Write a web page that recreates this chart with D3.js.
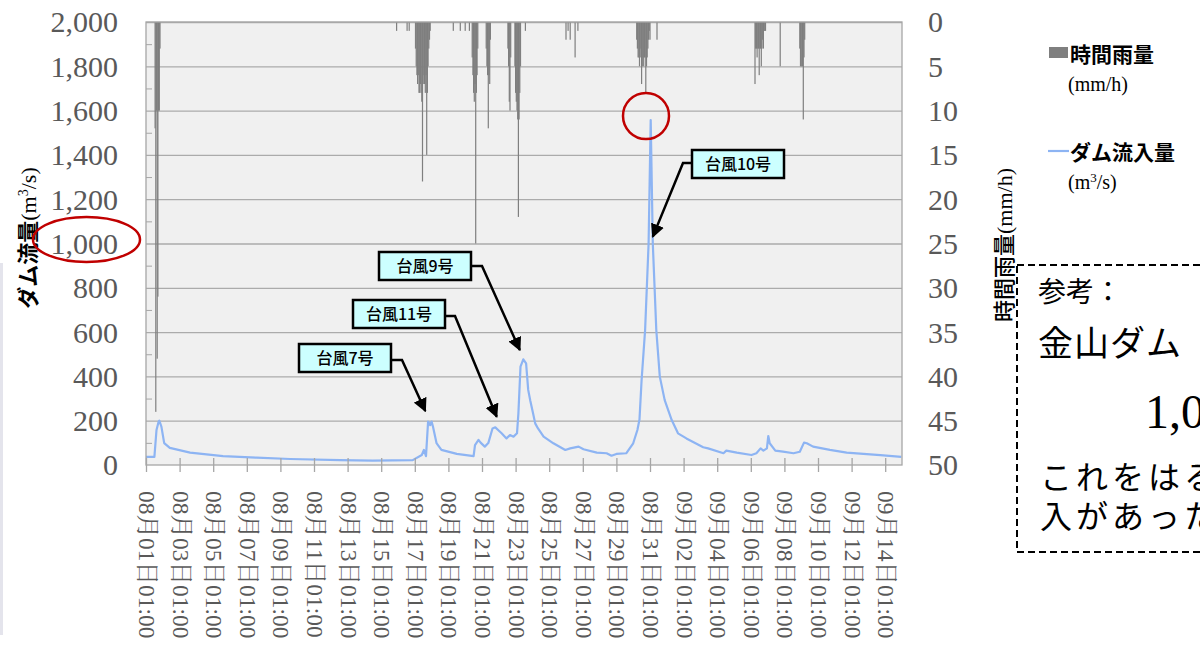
<!DOCTYPE html>
<html>
<head>
<meta charset="utf-8">
<script src="https://cdn.jsdelivr.net/npm/d3@7"></script>
<style>
body{margin:0;background:#fff;overflow:hidden}
</style>
</head>
<body>
<div id="chart"></div>
<script>
var WIDTH=1200, HEIGHT=649;
var LEFT=146, RIGHT=902, TOP=22, BOTTOM=465;

var SERIF='"Liberation Serif","Times New Roman","Noto Serif CJK JP","Noto Sans CJK JP",serif';
var GOTHIC='"Noto Sans CJK JP","Noto Sans",sans-serif';

// ---- data ----
var xTickLabels=["08月01日01:00","08月03日01:00","08月05日01:00","08月07日01:00","08月09日01:00",
  "08月11日01:00","08月13日01:00","08月15日01:00","08月17日01:00","08月19日01:00","08月21日01:00",
  "08月23日01:00","08月25日01:00","08月27日01:00","08月29日01:00","08月31日01:00","09月02日01:00",
  "09月04日01:00","09月06日01:00","09月08日01:00","09月10日01:00","09月12日01:00","09月14日01:00"];
var leftTicks=[0,200,400,600,800,1000,1200,1400,1600,1800,2000];
var rightTicks=[0,5,10,15,20,25,30,35,40,45,50];

// ダム流入量 (m3/s)
var inflowTimes=["08-01 01","08-01 13","08-01 16","08-01 19","08-01 20","08-01 23","08-02 03","08-02 11",
  "08-03 16","08-05 15","08-07 15","08-09 15","08-12 14","08-14 13","08-16 22","08-17 11","08-17 14",
  "08-17 17","08-17 20","08-17 23","08-18 01","08-18 03","08-18 08","08-18 15","08-19 13","08-20 13",
  "08-20 15","08-20 20","08-20 23","08-21 05","08-21 10","08-21 16","08-21 20","08-22 00","08-22 05",
  "08-22 12","08-22 17","08-22 22","08-23 03","08-23 05","08-23 08","08-23 12","08-23 16","08-23 19",
  "08-23 22","08-24 02","08-24 05","08-24 09","08-24 17","08-25 07","08-26 00","08-26 07","08-26 19",
  "08-27 02","08-27 21","08-28 11","08-28 18","08-29 01","08-29 15","08-30 01","08-30 07","08-30 10",
  "08-30 13","08-30 18","08-30 23","08-31 02","08-31 05","08-31 10","08-31 15","08-31 22","09-01 08",
  "09-01 17","09-02 05","09-03 05","09-03 12","09-04 10","09-04 14","09-05 05","09-06 02","09-06 09",
  "09-06 15","09-06 19","09-07 00","09-07 02","09-07 04","09-07 12","09-07 23","09-08 14","09-08 23",
  "09-09 05","09-09 09","09-09 18","09-10 18","09-11 18","09-12 18","09-13 18","09-15 00"];
var inflowValues=[37,37,158,195,200,173,99,77,
  56,40,33,27,22,20,22,45,68,
  40,196,180,196,173,99,68,50,40,
  90,113,101,83,99,165,170,158,143,
  120,135,128,143,233,444,477,459,339,
  290,233,188,165,128,98,68,75,83,
  71,56,53,42,50,53,98,158,206,
  384,609,1000,1557,1000,609,399,293,203,
  143,120,80,75,53,65,56,45,53,
  75,65,75,131,98,65,60,53,60,
  101,98,83,68,56,50,45,37];

// 時間雨量 (mm/h)
var rainTimes=["08-01 14","08-01 15","08-01 16","08-01 17","08-01 18","08-01 19","08-01 20","08-01 21",
  "08-15 23","08-16 14","08-16 17",
  "08-17 02","08-17 03","08-17 04","08-17 05","08-17 06","08-17 07","08-17 08","08-17 09","08-17 10",
  "08-17 11","08-17 12","08-17 13","08-17 14","08-17 15","08-17 16","08-17 17","08-17 18","08-17 19",
  "08-17 20","08-17 21","08-17 22","08-17 23",
  "08-19 08","08-19 18","08-20 01","08-20 07",
  "08-20 11","08-20 12","08-20 13","08-20 14","08-20 15","08-20 16","08-20 17","08-20 18","08-20 19",
  "08-21 07","08-21 08","08-21 09","08-21 10","08-21 11","08-21 12","08-21 13",
  "08-22 14","08-22 15","08-22 16","08-22 17","08-22 18",
  "08-23 00","08-23 01","08-23 02","08-23 03","08-23 04","08-23 05","08-23 06","08-23 07","08-23 08","08-23 15",
  "08-26 01","08-26 04","08-26 07","08-26 14","08-26 18",
  "08-30 06","08-30 07","08-30 08","08-30 09","08-30 10","08-30 11","08-30 12","08-30 13","08-30 14",
  "08-30 15","08-30 16","08-30 17","08-30 18","08-30 19","08-30 20","08-30 21","08-30 22","08-30 23",
  "08-31 00","08-31 01","08-31 11",
  "09-06 07","09-06 08","09-06 09","09-06 10","09-06 11","09-06 12","09-06 13","09-06 14","09-06 15",
  "09-06 16","09-06 17","09-06 18","09-06 19","09-06 20","09-06 21","09-06 22",
  "09-07 19",
  "09-08 23","09-09 00","09-09 01","09-09 02","09-09 03","09-09 04","09-09 05","09-09 06"];
var rainValues=[12,44,10,38,31,10,10,3,
  1,1,1,
  3,5,6,7,6,8,8,7,8,
  9,18,7,6,7,8,6,15,8,
  5,3,2,1,
  1,1,1,1,
  4,6,8,9,7,25,8,6,3,
  3,5,6,12,6,7,2,
  3,5,9,10,4,
  5,8,9,10,11,22,11,8,5,1,
  2,1,2,4,1,
  2,3,4,4,5,4,3,7,5,
  4,5,4,4,8,5,4,3,2,
  1,2,2,
  7,3,3,4,3,3,6,3,3,
  5,3,2,3,1,1,1,
  5,
  3,5,5,5,5,11,4,2];

// ---- helpers ----
var parseT=function(s){return d3.timeParse("%Y-%m-%d %H")("2016-"+s);};
var parseTick=function(s){return d3.timeParse("%Y %m月%d日%H:%M")("2016 "+s);};

var svg=d3.select("#chart").append("svg")
  .attr("width",WIDTH).attr("height",HEIGHT)
  .style("font-family",SERIF);

var scaleX=d3.scaleTime()
  .domain([parseT("08-01 01"),parseT("09-15 01")])
  .range([LEFT,RIGHT]);
var scaleY=d3.scaleLinear().domain([0,2000]).range([BOTTOM,TOP]);
var scaleR=d3.scaleLinear().domain([0,50]).range([TOP,BOTTOM]);

// faint page edge on the left
svg.append("rect").attr("x",0).attr("y",263).attr("width",3).attr("height",372).attr("fill","#e4e4ec");

// plot background
svg.append("rect").attr("x",LEFT).attr("y",TOP)
  .attr("width",RIGHT-LEFT).attr("height",BOTTOM-TOP)
  .attr("fill","#f0f0f0");

// gridlines
svg.append("g").attr("class","grid")
  .attr("transform","translate("+LEFT+",0)")
  .call(d3.axisLeft(scaleY).tickValues(leftTicks.slice(1)).tickSize(-(RIGHT-LEFT)).tickFormat(""))
  .call(function(g){g.select(".domain").remove();})
  .selectAll("line").attr("stroke","#ababab").attr("stroke-width",1.3);

// minor ticks on the left axis
svg.append("g")
  .attr("transform","translate("+LEFT+",0)")
  .call(d3.axisRight(scaleY).tickValues(d3.range(100,2000,200)).tickSize(6).tickFormat(""))
  .call(function(g){g.select(".domain").remove();})
  .selectAll("line").attr("stroke","#a6a6a6");

// rainfall bars hanging from the top
svg.append("g").selectAll("rect")
  .data(rainTimes)
  .enter().append("rect")
  .attr("x",function(d){return scaleX(parseT(d))-0.6;})
  .attr("y",TOP)
  .attr("width",1.2)
  .attr("height",function(d,i){return scaleR(rainValues[i])-TOP;})
  .attr("fill","#7f7f7f");

// inflow line
var line=d3.line()
  .x(function(d){return scaleX(parseT(d));})
  .y(function(d,i){return scaleY(inflowValues[i]);});
svg.append("path")
  .datum(inflowTimes)
  .attr("d",line)
  .attr("fill","none")
  .attr("stroke","#8db4f3")
  .attr("stroke-width",2.2)
  .attr("stroke-linejoin","round");

// plot border
svg.append("rect").attr("x",LEFT).attr("y",TOP)
  .attr("width",RIGHT-LEFT).attr("height",BOTTOM-TOP)
  .attr("fill","none").attr("stroke","#a6a6a6").attr("stroke-width",1.3);

// left axis
var gl=svg.append("g")
  .attr("transform","translate("+LEFT+",0)")
  .call(d3.axisLeft(scaleY).tickValues(leftTicks).tickSize(0).tickPadding(28).tickFormat(d3.format(",")));
gl.select(".domain").remove();
gl.selectAll("text").style("font-family",SERIF).style("font-size","30px").attr("fill","#595959").attr("dy","0.33em");

// right axis
var gr=svg.append("g")
  .attr("transform","translate("+RIGHT+",0)")
  .call(d3.axisRight(scaleR).tickValues(rightTicks).tickSize(0).tickPadding(26));
gr.select(".domain").remove();
gr.selectAll("text").style("font-family",SERIF).style("font-size","30px").attr("fill","#595959").attr("dy","0.33em");

// bottom axis
var gx=svg.append("g")
  .attr("transform","translate(0,"+BOTTOM+")")
  .call(d3.axisBottom(scaleX).tickValues(xTickLabels.map(parseTick)).tickSize(7)
    .tickFormat(function(d,i){return xTickLabels[i];}));
gx.select(".domain").remove();
gx.selectAll(".tick line").attr("y1",-7).attr("stroke","#a6a6a6").attr("stroke-width",1.3);
gx.selectAll("text")
  .attr("y",0).attr("dy","0.36em")
  .attr("transform","translate(1,26) rotate(90)")
  .style("text-anchor","start")
  .style("font-family",SERIF).style("font-size","23.5px").attr("fill","#595959");

// axis titles
var tl=svg.append("text")
  .attr("transform","translate(36,238) rotate(-90)")
  .style("text-anchor","middle").style("font-size","22px").attr("fill","#000");
tl.append("tspan").style("font-family",GOTHIC).style("font-weight","bold").text("ダム流量");
tl.append("tspan").text("(m");
tl.append("tspan").attr("dy","-8").style("font-size","14px").text("3");
tl.append("tspan").attr("dy","8").text("/s)");

var tr=svg.append("text")
  .attr("transform","translate(1012,245) rotate(-90)")
  .style("text-anchor","middle").style("font-size","22px").attr("fill","#000");
tr.append("tspan").style("font-family",GOTHIC).style("font-weight","500").text("時間雨量");
tr.append("tspan").text("(mm/h)");

// legend
var lg=svg.append("g");
lg.append("rect").attr("x",1049).attr("y",47).attr("width",19).attr("height",11).attr("fill","#7f7f7f");
lg.append("text").attr("x",1070).attr("y",62).style("font-family",GOTHIC).style("font-weight","bold")
  .style("font-size","21px").text("時間雨量");
lg.append("text").attr("x",1068).attr("y",91).style("font-size","20px").text("(mm/h)");
lg.append("line").attr("x1",1048).attr("x2",1069).attr("y1",151).attr("y2",151)
  .attr("stroke","#8db4f3").attr("stroke-width",2.2);
lg.append("text").attr("x",1070).attr("y",160).style("font-family",GOTHIC).style("font-weight","bold")
  .style("font-size","21px").text("ダム流入量");
var lm=lg.append("text").attr("x",1068).attr("y",189).style("font-size","20px");
lm.append("tspan").text("(m");
lm.append("tspan").attr("dy","-7").style("font-size","13px").text("3");
lm.append("tspan").attr("dy","7").text("/s)");

// typhoon callouts
var defs=svg.append("defs");
defs.append("marker").attr("id","arrow")
  .attr("viewBox","0 0 10 10").attr("refX",9).attr("refY",5)
  .attr("markerWidth",5.5).attr("markerHeight",5.5).attr("markerUnits","strokeWidth")
  .attr("orient","auto")
  .append("path").attr("d","M0,0 L10,5 L0,10 z").attr("fill","#000");

var callouts=[
  {label:"台風7号", t:"08-17 16", v:244, bx:299, by:344, cx:402, cy:360, side:"right"},
  {label:"台風11号", t:"08-21 22", v:218, bx:353, by:300, cx:455, cy:316, side:"right"},
  {label:"台風9号", t:"08-23 07", v:519, bx:379, by:252, cx:482, cy:266, side:"right"},
  {label:"台風10号", t:"08-31 05", v:1031, bx:692, by:150, cx:683, cy:163, side:"left"}
];
var BW=92, BH=28;
callouts.forEach(function(c){
  var sx=c.side=="right"?c.bx+BW:c.bx;
  svg.append("path")
    .attr("d","M"+sx+","+c.cy+" L"+c.cx+","+c.cy+" L"+scaleX(parseT(c.t))+","+scaleY(c.v))
    .attr("fill","none").attr("stroke","#000").attr("stroke-width",2.5)
    .attr("marker-end","url(#arrow)");
  svg.append("rect").attr("x",c.bx).attr("y",c.by).attr("width",BW).attr("height",BH)
    .attr("fill","#ccffff").attr("stroke","#000").attr("stroke-width",2.5);
  svg.append("text").attr("x",c.bx+BW/2).attr("y",c.by+BH/2).attr("dy","0.36em")
    .style("text-anchor","middle").style("font-family",GOTHIC).style("font-size","16px")
    .style("font-weight","500").text(c.label);
});

// red highlight marks
svg.append("ellipse").attr("cx",86.5).attr("cy",239.5).attr("rx",53.5).attr("ry",22.5)
  .attr("fill","none").attr("stroke","#c00000").attr("stroke-width",2.5);
svg.append("circle").attr("cx",646).attr("cy",116).attr("r",23)
  .attr("fill","none").attr("stroke","#c00000").attr("stroke-width",2.5);

// reference note box (cut off at the right edge, as in the original picture)
svg.append("rect").attr("x",1017).attr("y",265).attr("width",300).attr("height",287)
  .attr("fill","#fff").attr("stroke","#000").attr("stroke-width",2).attr("stroke-dasharray","7,4");
svg.append("text").attr("x",1038).attr("y",302).style("font-family",GOTHIC).style("font-size","28px").text("参考：");
svg.append("text").attr("x",1038).attr("y",356).style("font-family",GOTHIC).style("font-size","35px").style("letter-spacing","1px").text("金山ダム");
svg.append("text").attr("x",1145).attr("y",428).style("font-family",SERIF).style("font-size","48px").text("1,000");
svg.append("text").attr("x",1040).attr("y",489).style("font-family",GOTHIC).style("font-size","32px").style("letter-spacing","4px").text("これをはる");
svg.append("text").attr("x",1040).attr("y",528).style("font-family",GOTHIC).style("font-size","32px").style("letter-spacing","4px").text("入があった");
</script>
</body>
</html>
